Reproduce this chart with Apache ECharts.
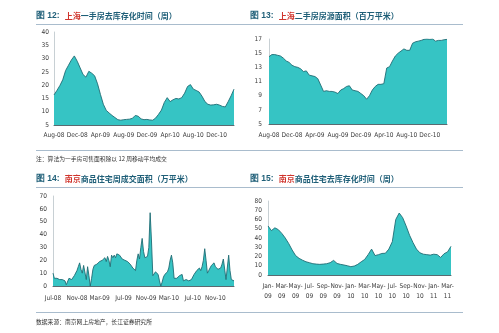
<!DOCTYPE html>
<html><head><meta charset="utf-8">
<script src="https://cdn.jsdelivr.net/npm/echarts@6/dist/echarts.min.js"></script>
<style>html,body{margin:0;padding:0;background:#fff}#c{width:499px;height:333px}</style>
</head><body><div id="c"></div>
<script>
// ---- Data ----
// Fig 12: Shanghai new-home destocking time (weeks), semi-monthly from Aug-08
const p1Start = [2008, 8];
const p1Values = [16.3,18,19.8,22,25.5,27.5,29.5,31,29,26.5,24,23,25.2,24.5,23.5,20.5,16.5,12.8,10.5,9.5,8.6,7.8,7.0,6.8,7.0,7.1,7.2,7.5,8.6,8.3,7.3,7.0,7.1,6.9,6.8,7.6,9,10.6,13.5,15.3,13.8,14.5,15,14.8,15.3,17,19.5,20.2,18.5,18,17.4,15.8,13.8,12.8,12.5,12.6,12.8,12.5,12,11.8,13.8,16,18.5];
const p1Ticks = ['Aug-08','Dec-08','Apr-09','Aug-09','Dec-09','Apr-10','Aug-10','Dec-10'];
const p1YTicks = [5, 40, 5];

// Fig 13: Shanghai second-hand listings area (million m2), semi-monthly from Aug-08
const p2Start = [2008, 8];
const p2Values = [14.5,14.8,14.8,14.7,14.6,14.3,13.9,13.7,13.3,13.1,13,12.8,12.4,12.5,11.9,11.8,11.7,11.4,10.5,9.6,9.7,9.6,9.6,9.5,9.3,9.8,10,10.3,10.4,9.8,9.7,9.6,9.3,9,8.5,9,9.8,10.3,10.6,10.6,10.7,12.9,13.1,13.9,14.6,15,15.3,15.6,15.4,15.4,16.4,16.6,16.7,16.8,16.95,17,16.95,17,16.7,16.8,16.8,16.9,16.95];
const p2Ticks = ['Aug-08','Dec-08','Apr-09','Aug-09','Dec-09','Apr-10','Aug-10','Dec-10'];
const p2YTicks = [5, 17, 2];

// Fig 14: Nanjing residential weekly transaction area (10k m2), weekly from 2008-07-01
const p3Start = [2008, 7, 1];
const p3Values = [10,6,5,6,5,5,6,5,5,4,1,0,6,7,5,6,8,9,12,15,18,13,10,16,15,5,15,8,0,6,13,16,17,17,18,19,19,20,21,22,19,23,20,15,24,22,24,22,25,25,24,23,21,20,20,20,19,19,17,16,14,13,12,20,25,21,30,37,27,22,21,23,30,57,35,8,9,11,12,9,4,0,3,7,9,10,11,14,20,24,18,6,5,6,7,8,8,9,4,3,5,6,4,3,5,7,9,10,12,13,14,12,15,20,29,20,10,12,14,16,17,18,15,14,13,13,14,17,21,22,5,4,24,12,5,6,4];
const p3Ticks = ['Jul-08','Nov-08','Mar-09','Jul-09','Nov-09','Mar-10','Jul-10','Nov-10'];
const p3YTicks = [0, 70, 10];

// Fig 15: Nanjing residential destocking time (weeks), semi-monthly from Jan-09
const p4Start = [2009, 1];
const p4Values = [53,48,51,49,45,40,34,27,21,18,16,14.3,13.3,12.2,11.8,11.5,11.8,12.2,13.3,15.8,12.5,11.5,10.8,10,9,9.7,11.5,14.3,16.8,22,28,21,22,23.3,23.5,28,36,60,67,62,53,43,35,28,24,22.5,22,21.5,22.5,22,19,23,25,31];
const p4Ticks = ['Jan-09','Mar-09','May-09','Jul-09','Sep-09','Nov-09','Jan-10','Mar-10','May-10','Jul-10','Sep-10','Nov-10','Jan-11','Mar-11'];
const p4YTicks = [0, 80, 10];

// ---- Helpers ----
const MON = ['Jan','Feb','Mar','Apr','May','Jun','Jul','Aug','Sep','Oct','Nov','Dec'];
const pad = n => (n < 10 ? '0' : '') + n;
function semiMonthly(start, n) {
  const out = [];
  for (let i = 0; i < n; i++) {
    const mm = start[1] - 1 + Math.floor(i / 2);
    const yy = start[0] + Math.floor(mm / 12);
    out.push(yy + '-' + pad(mm % 12 + 1) + '-' + (i % 2 ? '16' : '01'));
  }
  return out;
}
function weekly(start, n) {
  const out = [];
  const t0 = Date.UTC(start[0], start[1] - 1, start[2]);
  for (let i = 0; i < n; i++) out.push(new Date(t0 + i * 7 * 86400000).toISOString().slice(0, 10));
  return out;
}
const monLabel = v => MON[+v.slice(5, 7) - 1] + '-' + v.slice(2, 4);

const c1 = semiMonthly(p1Start, p1Values.length);
const c2 = semiMonthly(p2Start, p2Values.length);
const c3 = weekly(p3Start, p3Values.length);
const c4 = semiMonthly(p4Start, p4Values.length);

const FILL = '#36c4c4', EDGE = '#1f6c74', TXT = '#3a3a3a';
const TITLE_C = '#1f5f78', RED = '#d0342c', RULE = '#a9bccd';
const NARROW = "'Liberation Sans Narrow', 'DejaVu Sans Condensed', sans-serif";

function xAxis(gi, cats, ticks, twoLine, margin) {
  return {
    type: 'category', gridIndex: gi, data: cats, boundaryGap: false,
    axisTick: { show: false },
    axisLine: { show: true, lineStyle: { color: '#5a6a70', width: 1 } },
    axisLabel: {
      color: TXT, fontSize: 6.5, fontFamily: NARROW, margin: margin,
      lineHeight: 10,
      interval: (idx, v) => {
        const lab = monLabel(v);
        if (!ticks.includes(lab)) return false;
        return idx === 0 || monLabel(cats[idx - 1]) !== lab;
      },
      formatter: v => twoLine ? MON[+v.slice(5, 7) - 1] + '-\n' + v.slice(2, 4) : monLabel(v)
    }
  };
}
function yAxis(gi, t, margin) {
  return {
    type: 'value', gridIndex: gi, min: t[0], max: t[1], interval: t[2],
    splitLine: { show: false }, axisTick: { show: false },
    axisLine: { show: true, lineStyle: { color: '#c8d0d4', width: 1 } },
    axisLabel: { color: TXT, fontSize: 6.5, fontFamily: NARROW, margin: margin }
  };
}
function series(i, vals) {
  return {
    type: 'line', xAxisIndex: i, yAxisIndex: i, data: vals, showSymbol: false,
    lineStyle: { color: EDGE, width: 0.9 }, areaStyle: { color: FILL, opacity: 1 },
    animation: false
  };
}
const richT = {
  a: { color: TITLE_C, fontSize: 8.5, fontWeight: 'bold', fontFamily: 'Liberation Sans' },
  r: { color: RED, fontSize: 8, fontFamily: 'Noto Sans CJK SC' },
  b: { color: TITLE_C, fontSize: 8, fontFamily: 'Noto Sans CJK SC' }
};
function title(txt, place, rest, left, top) {
  return { text: '{a|' + txt + '} {r|' + place + '}{b|' + rest + '}', left: left, top: top, padding: 0,
           textStyle: { rich: richT } };
}
function rule(x1, x2, y) {
  return { type: 'line', shape: { x1: x1, y1: y, x2: x2, y2: y }, style: { stroke: RULE, lineWidth: 1 }, silent: true };
}

const chart = echarts.init(document.getElementById('c'), null, { renderer: 'canvas' });
chart.setOption({
  animation: false,
  backgroundColor: '#fff',
  title: [
    title('图 12:', '上海', '一手房去库存化时间（周）', 36, 7),
    title('图 13:', '上海', '二手房房源面积（百万平米）', 250, 7),
    title('图 14:', '南京', '商品住宅周成交面积（万平米）', 36, 170),
    title('图 15:', '南京', '商品住宅去库存化时间（周）', 250, 170)
  ],
  grid: [
    { left: 54, top: 32, width: 180, height: 93 },
    { left: 269, top: 39, width: 178, height: 85 },
    { left: 53, top: 196, width: 181, height: 90 },
    { left: 268, top: 201, width: 183, height: 74 }
  ],
  xAxis: [
    xAxis(0, c1, p1Ticks, false, 5),
    xAxis(1, c2, p2Ticks, false, 6),
    xAxis(2, c3, p3Ticks, false, 7),
    xAxis(3, c4, p4Ticks, true, 6)
  ],
  yAxis: [yAxis(0, p1YTicks, 5), yAxis(1, p2YTicks, 7), yAxis(2, p3YTicks, 6), yAxis(3, p4YTicks, 6)],
  series: [series(0, p1Values), series(1, p2Values), series(2, p3Values), series(3, p4Values)],
  graphic: [
    rule(36, 463, 24.5), rule(36, 463, 150.5), rule(36, 463, 187.5), rule(36, 463, 312.5),
    { type: 'text', left: 36, top: 156, style: { text: '注：算法为一手房可售面积除以 12 周移动平均成交', fill: '#333', font: '5.8px "Noto Sans CJK SC"' } },
    { type: 'text', left: 36, top: 319, style: { text: '数据来源：南京网上房地产，长江证券研究所', fill: '#333', font: '5.8px "Noto Sans CJK SC"' } }
  ]
});
</script></body></html>
